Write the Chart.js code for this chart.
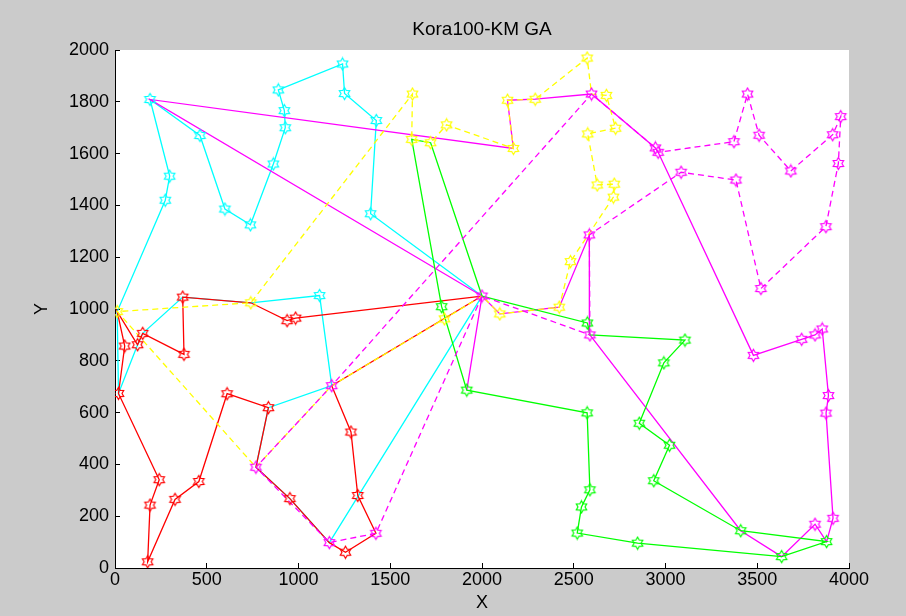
<!DOCTYPE html>
<html>
<head>
<meta charset="utf-8">
<script src="https://cdn.jsdelivr.net/npm/chart.js@4.4.1/dist/chart.umd.min.js"></script>
<style>
  html, body { margin: 0; padding: 0; background: #cbcbcb; }
  canvas { display: block; }
</style>
</head>
<body>
<canvas id="routeChart" width="906" height="616"></canvas>
<script>
const chartTitle = 'Kora100-KM GA';
const xTickValues = [0, 500, 1000, 1500, 2000, 2500, 3000, 3500, 4000];
const yTickValues = [0, 200, 400, 600, 800, 1000, 1200, 1400, 1600, 1800, 2000];

// routes (depot at about 2000,1050)
const cyanX = [2000, 1393, 1424, 1251, 1240, 890, 923, 928, 863, 738, 599, 463, 191, 298, 274, 12, 19, 123, 151, 369, 740, 1115, 1181, 836, 768, 953, 1168, 2000];
const cyanY = [1050, 1368, 1728, 1832, 1946, 1846, 1766, 1700, 1560, 1325, 1386, 1670, 1809, 1513, 1420, 990, 674, 862, 906, 1046, 1024, 1052, 704, 619, 389, 268, 98, 1050];

const redX = [2000, 984, 938, 740, 369, 376, 151, 123, 12, 53, 19, 241, 191, 178, 327, 457, 611, 836, 768, 953, 1168, 1256, 1422, 1323, 1286, 1181, 2000];
const redY = [1050, 965, 955, 1024, 1046, 825, 906, 862, 990, 857, 674, 341, 243, 24, 265, 334, 673, 619, 389, 268, 98, 61, 134, 280, 525, 704, 1050];

const yellowX = [2000, 1795, 1181, 768, 12, 740, 1621, 1617, 1720, 1807, 2171, 2139, 2290, 2573, 2597, 2678, 2728, 2576, 2628, 2721, 2716, 2482, 2421, 2097, 2000];
const yellowY = [1050, 962, 704, 389, 990, 1024, 1830, 1655, 1642, 1711, 1620, 1806, 1810, 1969, 1830, 1825, 1698, 1676, 1479, 1482, 1432, 1183, 1007, 981, 1050];

const greenX = [2000, 1720, 1617, 1780, 1917, 2573, 2588, 2542, 2519, 2848, 3633, 3878, 3410, 2936, 3022, 2857, 2991, 3106, 2588, 2574, 2000];
const greenY = [1050, 1642, 1655, 1009, 687, 599, 302, 236, 135, 96, 44, 102, 144, 337, 474, 559, 792, 880, 900, 946, 1050];

const magentaX = [1917, 2000, 191, 2171, 2139, 2290, 2597, 2945, 2960, 3479, 3742, 3815, 3854, 3888, 3875, 3913, 3878, 3815, 3633, 3410, 2588, 2585, 2421, 2097, 2000];
const magentaY = [687, 1050, 1809, 1620, 1806, 1810, 1830, 1622, 1605, 821, 883, 900, 923, 666, 598, 192, 102, 169, 44, 144, 900, 1286, 1007, 981, 1050];

const magentaDashX = [2000, 1422, 1168, 768, 1181, 2597, 2945, 2960, 3373, 3447, 3510, 3683, 3911, 3955, 3942, 3874, 3520, 3384, 3085, 2585, 2588, 2000];
const magentaDashY = [1050, 134, 98, 389, 704, 1830, 1622, 1605, 1646, 1830, 1671, 1533, 1673, 1743, 1562, 1318, 1079, 1498, 1528, 1286, 900, 1050];

function toPoints(xs, ys) {
    return xs.map((x, i) => ({ x: x, y: ys[i] }));
}

// MATLAB-like hexagram marker
function hexagram(color) {
    const c = document.createElement('canvas');
    c.width = 15;
    c.height = 15;
    const g = c.getContext('2d');
    g.strokeStyle = color;
    g.lineWidth = 1.2;
    g.beginPath();
    for (let i = 0; i < 12; i++) {
        const r = i % 2 === 0 ? 6 : 3.5;
        const a = -Math.PI / 2 + i * Math.PI / 6;
        const px = 7.5 + r * Math.cos(a);
        const py = 7.5 + r * Math.sin(a);
        if (i === 0) g.moveTo(px, py); else g.lineTo(px, py);
    }
    g.closePath();
    g.stroke();
    return c;
}

const routes = {
    magentaDash: { xs: magentaDashX, ys: magentaDashY, color: '#ff00ff', dash: [6, 4] },
    yellow: { xs: yellowX, ys: yellowY, color: '#ffff00', dash: [6, 4] },
    green: { xs: greenX, ys: greenY, color: '#00ff00', dash: [] },
    magenta: { xs: magentaX, ys: magentaY, color: '#ff00ff', dash: [] },
    red: { xs: redX, ys: redY, color: '#ff0000', dash: [] },
    cyan: { xs: cyanX, ys: cyanY, color: '#00ffff', dash: [] }
};

// first dataset ends up on top
const markerOrder = ['magentaDash', 'yellow', 'green', 'red', 'cyan', 'magenta'];
const lineOrder = ['magentaDash', 'yellow', 'green', 'magenta', 'red', 'cyan'];

const datasets = [];
const shown = new Set();
markerOrder.forEach(name => {
    const r = routes[name];
    // one marker per city: the colour on top wins
    const radii = r.xs.map((x, i) => {
        const key = x + ',' + r.ys[i];
        if (shown.has(key)) return 0;
        shown.add(key);
        return 6;
    });
    datasets.push({
        data: toPoints(r.xs, r.ys),
        showLine: false,
        pointStyle: hexagram(r.color),
        pointRadius: radii,
        pointHoverRadius: radii
    });
});
lineOrder.forEach(name => {
    const r = routes[name];
    datasets.push({
        data: toPoints(r.xs, r.ys),
        showLine: true,
        borderColor: r.color,
        borderWidth: 1.3,
        borderDash: r.dash,
        pointRadius: 0,
        tension: 0,
        fill: false
    });
});

const backgroundPlugin = {
    id: 'figureBackground',
    beforeDraw(chart) {
        const ctx = chart.ctx;
        const a = chart.chartArea;
        ctx.save();
        ctx.fillStyle = '#cbcbcb';
        ctx.fillRect(0, 0, chart.width, chart.height);
        ctx.fillStyle = '#ffffff';
        ctx.fillRect(a.left, a.top, a.right - a.left, a.bottom - a.top);
        ctx.restore();
    }
};

const tickFont = { family: '"Liberation Sans", Arial, sans-serif', size: 18 };

new Chart(document.getElementById('routeChart').getContext('2d'), {
    type: 'scatter',
    data: { datasets: datasets },
    options: {
        responsive: false,
        animation: false,
        events: [],
        devicePixelRatio: 1,
        layout: { padding: { top: 10, left: 30, right: 57, bottom: 0 } },
        plugins: {
            legend: { display: false },
            tooltip: { enabled: false },
            title: {
                display: true,
                fullSize: false,
                text: chartTitle,
                color: '#000',
                font: { family: '"Liberation Sans", Arial, sans-serif', size: 19, weight: 'normal' },
                padding: { top: 8.6, bottom: 8.6 }
            }
        },
        scales: {
            x: {
                type: 'linear',
                min: 0,
                max: 4000,
                afterBuildTicks: s => { s.ticks = xTickValues.map(v => ({ value: v })); },
                afterFit: s => { s.height = 48; },
                ticks: { color: '#000', font: tickFont, padding: 6, maxRotation: 0, callback: v => String(v) },
                grid: { drawOnChartArea: false, tickLength: -5, color: '#000', tickColor: '#000' },
                border: { display: true, color: '#000', width: 1 },
                title: {
                    display: true,
                    text: 'X',
                    color: '#000',
                    font: tickFont,
                    padding: { top: 0, bottom: 2 }
                }
            },
            y: {
                type: 'linear',
                min: 0,
                max: 2000,
                afterBuildTicks: s => { s.ticks = yTickValues.map(v => ({ value: v })); },
                afterFit: s => { s.width = 85; },
                ticks: { color: '#000', font: tickFont, padding: 11, callback: v => String(v) },
                grid: { drawOnChartArea: false, tickLength: -5, color: '#000', tickColor: '#000' },
                border: { display: true, color: '#000', width: 1 },
                title: {
                    display: true,
                    text: 'Y',
                    color: '#000',
                    font: tickFont,
                    padding: { top: 1, bottom: 0 }
                }
            }
        }
    },
    plugins: [backgroundPlugin]
});
</script>
</body>
</html>
